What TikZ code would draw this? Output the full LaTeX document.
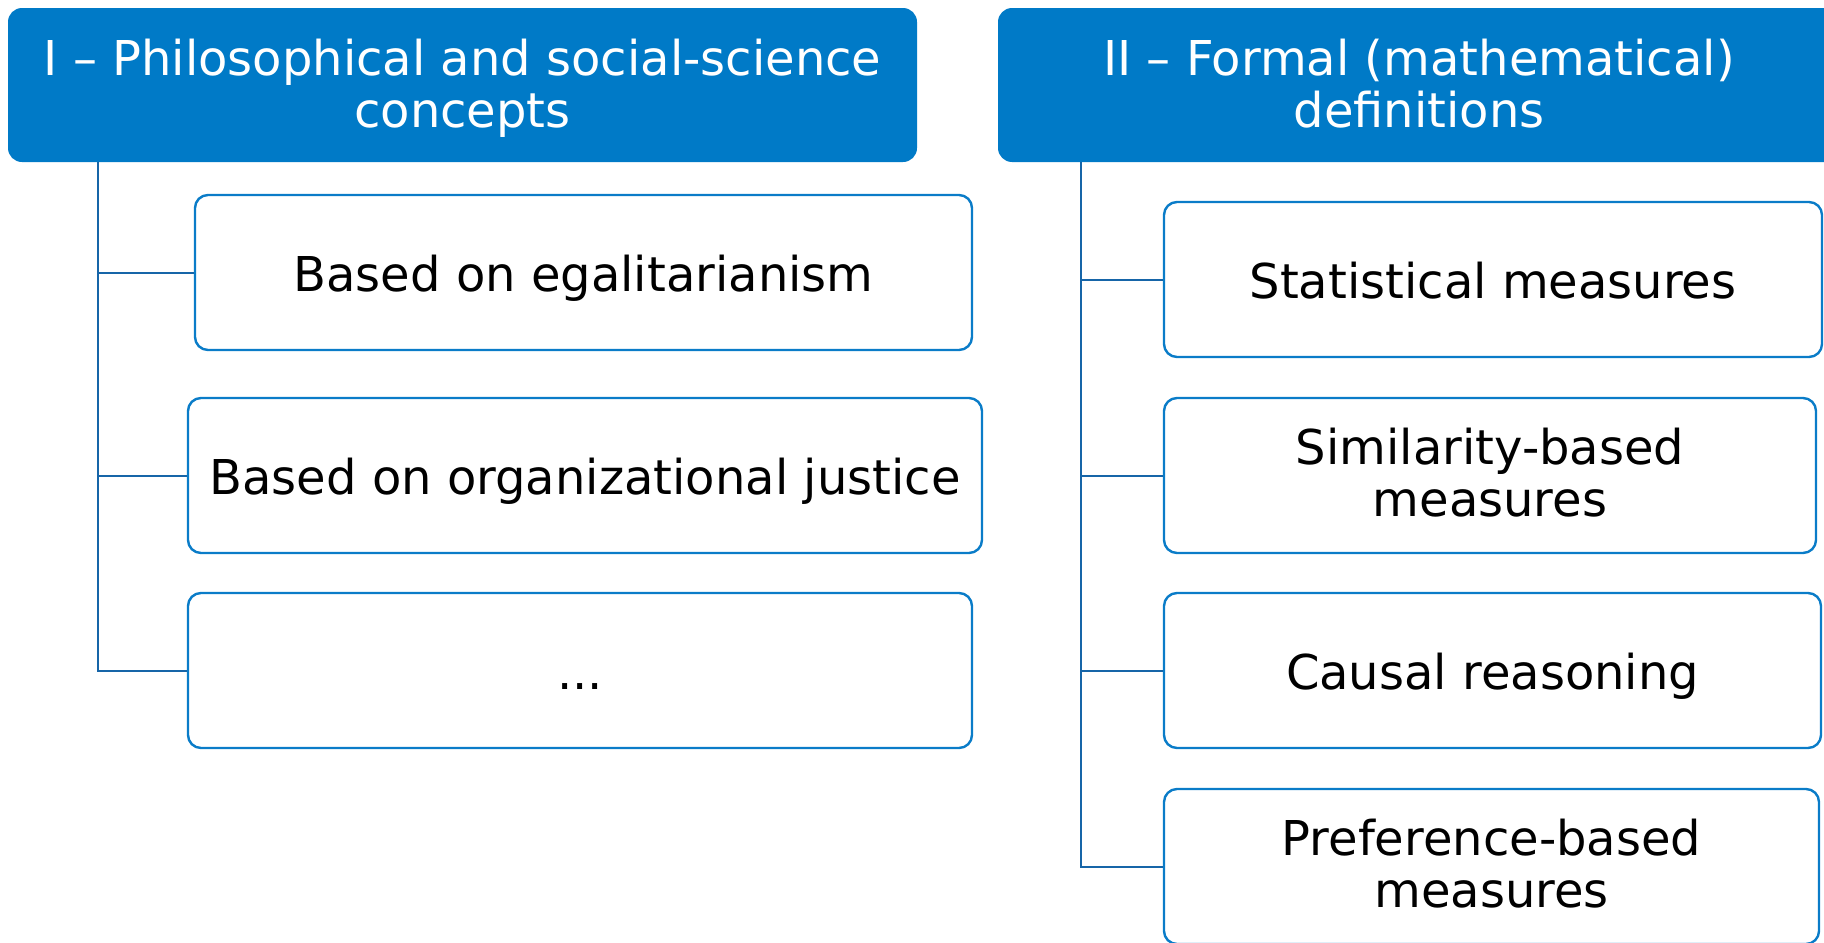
\documentclass[tikz,border=0pt]{standalone}
\usepackage{fontspec}
\setmainfont{DejaVu Sans}
\definecolor{headblue}{RGB}{0,122,199}
\definecolor{boxblue}{RGB}{10,124,200}
\definecolor{linkblue}{RGB}{22,101,168}
\begin{document}
\begin{tikzpicture}[x=0.5pt,y=-0.5pt,
  header/.style={rectangle, rounded corners=7pt, fill=headblue, text=white,
    align=center, inner sep=0pt, minimum height=77pt,
    text height=46pt, text depth=4pt,
    font=\fontsize{24}{26}\selectfont},
  item/.style={rectangle, rounded corners=6.5pt, draw=boxblue, line width=1.2pt,
    fill=white, align=center, inner sep=0pt, minimum height=77.5pt,
    font=\fontsize{24}{26}\selectfont},
  oneline/.style={item, text height=23pt, text depth=4pt},
  twoline/.style={item, text height=45pt, text depth=4pt},
  link/.style={draw=linkblue, line width=1pt}]
\useasboundingbox (0,0) rectangle (1824,942);

% column headers
\node[header, minimum width=454.5pt] (h1) at (462.5,85)
  {I – Philosophical and social-science\\concepts};
\node[header, minimum width=421pt] (h2) at (1419,85)
  {II – Formal (mathematical)\\definitions};

% left column
\node[oneline, minimum width=388.5pt] (c1) at (583.5,272.5) {Based on egalitarianism};
\node[oneline, minimum width=397pt] (c2) at (585,475.5) {Based on organizational justice};
\node[oneline, minimum width=392pt] (c3) at (580,670.5) {...};

% right column
\node[oneline, minimum width=329pt] (d1) at (1493,279.5) {Statistical measures};
\node[twoline, minimum width=326pt] (d2) at (1490,475.5) {Similarity-based\\measures};
\node[oneline, minimum width=328.5pt] (d3) at (1492.5,670.5) {Causal reasoning};
\node[twoline, minimum width=327.5pt] (d4) at (1491.5,866.5) {Preference-based\\measures};

% tree connectors
\coordinate (lt) at ([xshift=45pt]h1.south west);
\coordinate (rt) at ([xshift=41.5pt]h2.south west);
\draw[link] (lt) |- (c3.west);
\draw[link] (lt) |- (c1.west);
\draw[link] (lt) |- (c2.west);
\draw[link] (rt) |- (d4.west);
\draw[link] (rt) |- (d1.west);
\draw[link] (rt) |- (d2.west);
\draw[link] (rt) |- (d3.west);
\end{tikzpicture}
\end{document}
